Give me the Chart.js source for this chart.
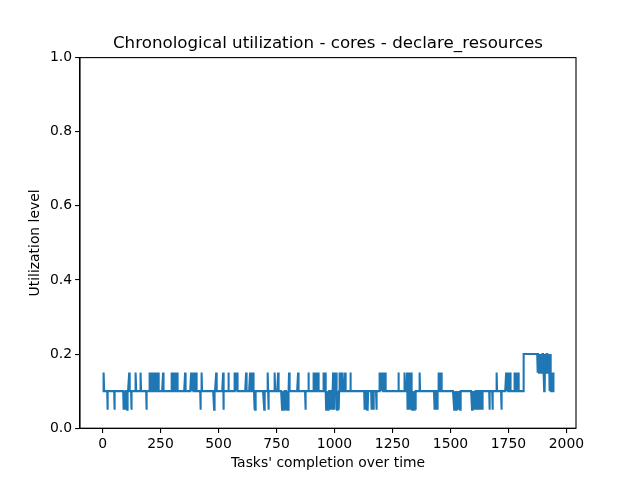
<!DOCTYPE html>
<html>
<head>
<meta charset="utf-8">
<script src="https://cdn.jsdelivr.net/npm/chart.js@4.4.1/dist/chart.umd.min.js"></script>
<style>
  html, body { margin: 0; padding: 0; background: #fff; }
  #wrap { width: 640px; height: 480px; }
</style>
</head>
<body>
<div id="wrap"><canvas id="chart" width="640" height="480"></canvas></div>
<script>
// Series: one sample per task, mostly at the base level
const taskCount = 1945;
const baseLevel = 0.1;

// tasks where utilization jumps up to 0.15
const spikeUp = [6, 115, 144, 165, 204, 207, 210, 221, 225, 229, 233, 237, 241, 261,
  299, 303, 307, 311, 315, 319, 323, 356, 382, 386, 390, 399, 402, 405, 428,
  490, 520, 544, 568, 572, 576, 580, 619, 636, 640, 644, 648, 651, 713, 743, 757,
  804, 843, 889, 909, 913, 917, 921, 930, 953, 957, 961, 994, 998, 1009,
  1023, 1027, 1031, 1034, 1046, 1069, 1193, 1197, 1201, 1205, 1209, 1213, 1217, 1221,
  1276, 1302, 1313, 1317, 1321, 1325, 1329, 1333, 1368, 1448, 1452, 1456, 1460,
  1700, 1740, 1744, 1748, 1752, 1757, 1777, 1784, 1792,
  1933, 1936, 1939, 1942, 1944];

// tasks where utilization drops to 0.05
const spikeDown = [22, 52, 92, 96, 100, 104, 106, 124, 190, 422, 481, 522, 655, 658, 697, 715,
  774, 778, 783, 792, 796, 800, 802, 875, 964, 968, 972, 976, 983, 987, 991, 996, 1000,
  1011, 1015, 1019, 1129, 1133, 1137, 1141, 1144, 1161, 1165, 1169, 1181,
  1315, 1319, 1323, 1327, 1331, 1335, 1339, 1343, 1347, 1350,
  1431, 1435, 1439, 1443, 1445, 1516, 1520, 1524, 1528, 1532, 1536, 1540, 1542,
  1593, 1597, 1601, 1605, 1609, 1613, 1617, 1621, 1625, 1629, 1633, 1637,
  1668, 1682, 1720];

// late plateau at 0.2, with dips to 0.15 and drops back to 0.1
const peakStart = 1816;
const peakEnd = 1930;
const peakLevel = 0.2;
const peakDips = [1876, 1879, 1882, 1885, 1888, 1891, 1894, 1897, 1900, 1903,
  1909, 1912, 1915, 1918, 1921, 1924, 1927];
const peakDrops = [1904, 1907, 1929];

const xTicks = [0, 250, 500, 750, 1000, 1250, 1500, 1750, 2000];
const yTicks = [0, 0.2, 0.4, 0.6, 0.8, 1.0];

// build the full series
const levels = new Array(taskCount).fill(baseLevel);
spikeUp.forEach((t) => { levels[t] = 0.15; });
spikeDown.forEach((t) => { levels[t] = 0.05; });
for (let t = peakStart; t <= peakEnd; t++) levels[t] = peakLevel;
peakDips.forEach((t) => { levels[t] = 0.15; });
peakDrops.forEach((t) => { levels[t] = 0.1; });
const points = levels.map((v, i) => ({ x: i, y: v }));

const FONT = "'DejaVu Sans', sans-serif";
const pad = (taskCount - 1) * 0.05;

// matplotlib-like frame and title
const framePlugin = {
  id: 'frame',
  afterDraw(chart) {
    const { ctx, chartArea: a } = chart;
    ctx.save();
    ctx.strokeStyle = '#000';
    ctx.lineWidth = 1.1;
    ctx.strokeRect(a.left, a.top, a.right - a.left, a.bottom - a.top);
    ctx.fillStyle = '#000';
    ctx.font = '16.7px ' + FONT;
    ctx.textAlign = 'center';
    ctx.textBaseline = 'middle';
    ctx.fillText('Chronological utilization - cores - declare_resources', (a.left + a.right) / 2, 44);
    ctx.restore();
  }
};

new Chart(document.getElementById('chart'), {
  type: 'line',
  data: {
    datasets: [{
      data: points,
      borderColor: '#1f77b4',
      borderWidth: 2.08,
      pointRadius: 0,
      tension: 0,
      fill: false
    }]
  },
  options: {
    responsive: false,
    animation: false,
    events: [],
    layout: { padding: { left: 27, right: 64, top: 57.6, bottom: 8 } },
    plugins: { legend: { display: false }, tooltip: { enabled: false }, title: { display: false } },
    scales: {
      x: {
        type: 'linear',
        min: -pad,
        max: taskCount - 1 + pad,
        afterBuildTicks: (s) => { s.ticks = xTicks.map((v) => ({ value: v })); },
        afterFit: (s) => { s.height = 480 - 427.2 - 8 - 1; },
        grid: { drawOnChartArea: false, drawTicks: true, tickLength: 4.9, color: '#000', lineWidth: 1.1 },
        border: { display: true, color: '#000', width: 1.1 },
        ticks: { color: '#000', font: { family: FONT, size: 13.9 }, padding: 3, maxRotation: 0, autoSkip: false, callback: (v) => String(v) },
        title: { display: true, text: "Tasks' completion over time", color: '#000', font: { family: FONT, size: 13.9 }, padding: 0 }
      },
      y: {
        min: 0,
        max: 1,
        afterBuildTicks: (s) => { s.ticks = yTicks.map((v) => ({ value: v })); },
        afterFit: (s) => { s.width = 80 - 27; },
        grid: { drawOnChartArea: false, drawTicks: true, tickLength: 4.9, color: '#000', lineWidth: 1.1 },
        border: { display: true, color: '#000', width: 1.1 },
        ticks: { color: '#000', font: { family: FONT, size: 13.9 }, padding: 3, callback: (v) => v.toFixed(1) },
        title: { display: true, text: 'Utilization level', color: '#000', font: { family: FONT, size: 13.9 }, padding: 0 }
      }
    }
  },
  plugins: [framePlugin]
});
</script>
</body>
</html>
